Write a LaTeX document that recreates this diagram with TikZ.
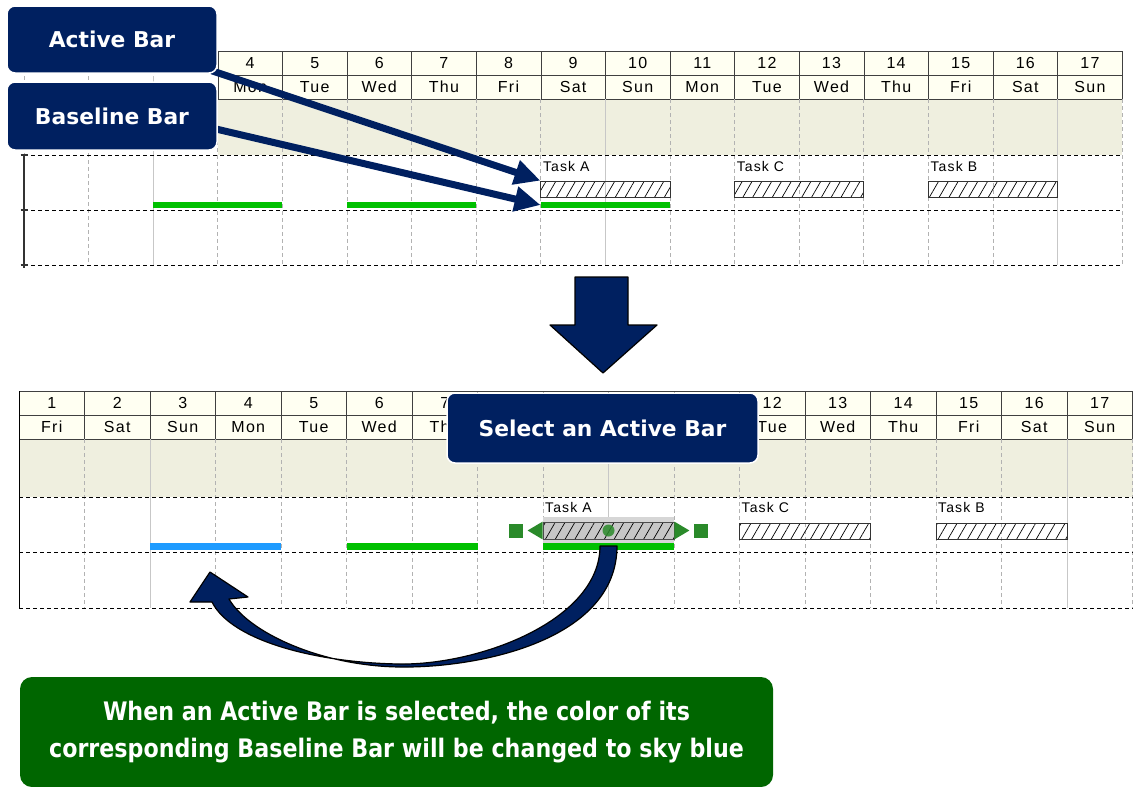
\documentclass[tikz,border=0pt]{standalone}
\usepackage{fontspec}
\setmainfont{Liberation Sans}[LetterSpace=8]
\newfontfamily\calloutfont{DejaVu Sans}
\newfontfamily\notefont{DejaVu Sans}[FakeStretch=0.87]
\usetikzlibrary{arrows.meta,patterns.meta,fit}
\pgfdeclarelayer{front}
\pgfsetlayers{main,front}
\definecolor{navy}{HTML}{002060}
\definecolor{notegreen}{HTML}{006600}
\definecolor{basegreen}{HTML}{00C000}
\definecolor{skyblue}{HTML}{1E9BFF}
\definecolor{handlegreen}{HTML}{2A8A2A}
\definecolor{headcream}{HTML}{FFFFF2}
\definecolor{bandbeige}{HTML}{EFEFDF}
\tikzset{
  callout/.style={draw=white, line width=1.5pt, fill=navy, rounded corners=8pt,
    text=white, font=\calloutfont\bfseries\fontsize{21.8}{26}\selectfont, inner sep=0pt},
  notebox/.style={fill=notegreen, rounded corners=12pt, text=white, align=center,
    font=\notefont\bfseries\fontsize{25.5}{37}\selectfont, inner sep=0pt},
  headcell/.style={font=\fontsize{16}{18}\selectfont, inner sep=0pt},
  tasklabel/.style={font=\fontsize{14}{16}\selectfont, anchor=west, inner sep=0pt, xshift=2pt},
  hatchbar/.style={draw=black!80, line width=0.8pt, inner sep=0pt,
    pattern={Lines[angle=60,distance=8.5pt,line width=0.7pt]}},
  basebar/.style={fill=basegreen, inner sep=0pt},
  gridline/.style={black!30, dash pattern=on 4pt off 3pt, line width=0.8pt},
  sunline/.style={black!22, line width=1pt},
  rowline/.style={black, dash pattern=on 4pt off 3pt, line width=1pt},
  pointer/.style={navy, line width=7pt, -{Triangle[length=26pt,width=24pt]}},
  blockarrow/.style={fill=navy, draw=black, line width=1.2pt, line join=round},
}
\begin{document}
\begin{tikzpicture}[x=1pt,y=-1pt]
\useasboundingbox (0,0) rectangle (1133,787);

% chart before the change
\begin{scope}[shift={(24,0)}, x=64.6pt]
  \fill[bandbeige] (3,99) rectangle (17,155);
  \fill[headcream] (3,51) rectangle (17,99);
  \draw[black!75] (3,51) rectangle (17,99) (3,75) -- (17,75);
  \foreach \i in {4,...,16} \draw[black!75] (\i,51) -- (\i,99);
  \foreach \d [count=\i from 4] in {Mon,Tue,Wed,Thu,Fri,Sat,Sun,Mon,Tue,Wed,Thu,Fri,Sat,Sun} {
    \node[headcell] (tn\i) at (\i-0.5,63) {\i};
    \node[headcell] (td\i) at (\i-0.5,87) {\d};
  }
  \draw[gridline] (0,76) -- (0,155) (1,76) -- (1,265);
  \draw[sunline] (2,76) -- (2,265);
  \foreach \i in {3,4,5,6,7,8,10,11,12,13,14,15,17} \draw[gridline] (\i,99) -- (\i,265);
  \foreach \i in {9,16} \draw[sunline] (\i,99) -- (\i,265);
  \foreach \y in {155,210,265} {
    \draw[rowline] (0,\y) -- (17,\y);
    \draw[black!80, line width=1.2pt] (0,\y) ++(-3.5pt,0pt) -- ++(7pt,0pt);
  }
  \draw[black!80, line width=2pt] (0,155) -- (0,268);
  % bars
  \node[basebar, fit={(2,202) (4,208)}] (tg1) {};
  \node[basebar, fit={(5,202) (7,208)}] (tg2) {};
  \node[basebar, fit={(8,202) (10,208)}] (tgA) {};
  \node[hatchbar, fit={(8,181) (10,197)}] (tA) {};
  \node[hatchbar, fit={(11,181) (13,197)}] (tC) {};
  \node[hatchbar, fit={(14,181) (16,197)}] (tB) {};
  \node[tasklabel] (tAl) at (8,166) {Task A};
  \node[tasklabel] (tCl) at (11,166) {Task C};
  \node[tasklabel] (tBl) at (14,166) {Task B};
\end{scope}

% chart after the change
\begin{scope}[shift={(19,0)}, x=65.5pt]
  \fill[bandbeige] (0,439) rectangle (17,497);
  \fill[headcream] (0,391) rectangle (17,439);
  \draw[black!75] (0,391) rectangle (17,439) (0,415) -- (17,415);
  \foreach \i in {1,...,16} \draw[black!75] (\i,391) -- (\i,439);
  % days 8 to 11 are hidden under the callout
  \foreach \i/\d in {1/Fri,2/Sat,3/Sun,4/Mon,5/Tue,6/Wed,7/Thu,12/Tue,13/Wed,14/Thu,15/Fri,16/Sat,17/Sun} {
    \node[headcell] (bn\i) at (\i-0.5,403) {\i};
    \node[headcell] (bd\i) at (\i-0.5,427) {\d};
  }
  \foreach \i in {1,3,4,5,6,7,8,10,11,12,13,14,15,17} \draw[gridline] (\i,439) -- (\i,608);
  \foreach \i in {2,9,16} \draw[sunline] (\i,439) -- (\i,608);
  \foreach \y in {497,552,608} \draw[rowline] (0,\y) -- (17,\y);
  \draw[black, line width=1pt] (0,391) -- (0,608);
  % bars
  \node[fill=skyblue, inner sep=0pt, fit={(2,543) (4,550)}] (bg1) {};
  \node[basebar, fit={(5,543) (7,550)}] (bg2) {};
  \node[basebar, fit={(8,543) (10,550)}] (bgA) {};
  \fill[black!16] (8,517) rectangle (10,543);
  \node[hatchbar, draw=black!70, preaction={fill=black!22}, fit={(8,522) (10,539)}] (bA) {};
  \node[hatchbar, fit={(11,523) (13,539)}] (bC) {};
  \node[hatchbar, fit={(14,523) (16,539)}] (bB) {};
  \node[tasklabel] (bAl) at (8,507) {Task A};
  \node[tasklabel] (bCl) at (11,507) {Task C};
  \node[tasklabel] (bBl) at (14,507) {Task B};
\end{scope}

% handles of the selected bar
\fill[handlegreen] (bA.west) ++(-15,0) -- (bA.north west) -- (bA.south west) -- cycle;
\fill[handlegreen] (bA.east) ++(15,0) -- (bA.north east) -- (bA.south east) -- cycle;
\fill[handlegreen] (bA.west) ++(-27,0) +(-7,-7) rectangle +(7,7);
\fill[handlegreen] (bA.east) ++(27,0) +(-7,-7) rectangle +(7,7);
\fill[handlegreen, fill opacity=0.85] (bA.center) circle (6);

% callouts
\begin{pgfonlayer}{front}
  \node[callout, minimum width=210pt, minimum height=67pt] (abox) at (112,39.5) {Active Bar};
  \node[callout, minimum width=210pt, minimum height=68pt] (bbox) at (112,116) {Baseline Bar};
  \node[callout, minimum width=311pt, minimum height=70pt] (sbox) at (602.5,428) {Select an Active Bar};
  \node[notebox, minimum width=753pt, minimum height=110pt] (note) at (396.5,732)
    {When an Active Bar is selected, the color of its\\corresponding Baseline Bar will be changed to sky blue};
\end{pgfonlayer}

\draw[pointer] ([xshift=-6pt,yshift=3pt]abox.south east) -- (tA.north west);
\draw[pointer] ([xshift=-6pt,yshift=-12pt]bbox.east) -- (tgA.west);

% block arrows
\draw[blockarrow] (575,277) -- (628,277) -- (628,325) -- (657,325) -- (603,373)
  -- (550,325) -- (575,325) -- cycle;
\draw[blockarrow] (600,546) -- (617,546) .. controls (617,640) and (480,668) .. (400,667)
  .. controls (320,666) and (248,632) .. (229,599) -- (248,597) -- (210,572) -- (190,602)
  -- (212,602) .. controls (232,642) and (320,663) .. (400,664)
  .. controls (480,665) and (600,620) .. (600,546) -- cycle;
\end{tikzpicture}
\end{document}
